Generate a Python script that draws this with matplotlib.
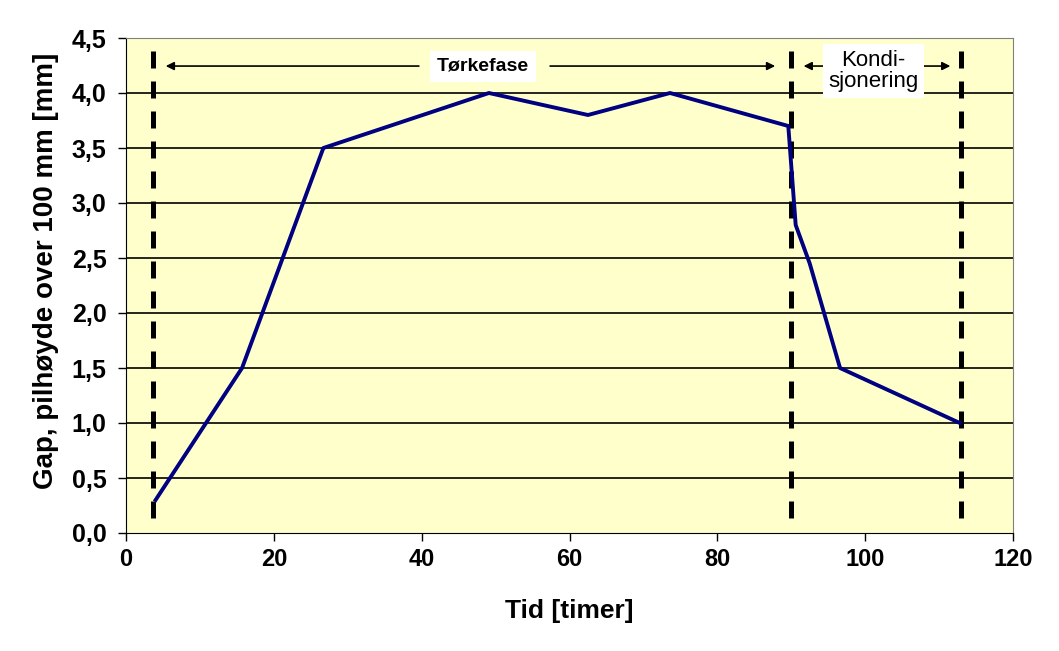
import matplotlib
matplotlib.use("Agg")
import matplotlib.pyplot as plt

plt.rcParams['font.family'] = ['Liberation Sans', 'DejaVu Sans']

# data
tid = [4.0, 15.7, 26.7, 49.1, 62.5, 73.6, 89.6, 90.6, 92.5, 96.6, 112.8]
gap = [0.30, 1.50, 3.50, 4.00, 3.80, 4.00, 3.70, 2.80, 2.45, 1.50, 1.00]
fase_grenser = [3.6, 90.0, 112.9]
x_ticks = [0, 20, 40, 60, 80, 100, 120]
y_ticks = [0.0, 0.5, 1.0, 1.5, 2.0, 2.5, 3.0, 3.5, 4.0, 4.5]

fig = plt.figure(figsize=(10.59, 6.51), dpi=100)
ax = fig.add_axes([126 / 1059, 1 - 533 / 651, 887 / 1059, 495 / 651])
ax.set_facecolor('#ffffcc')

ax.set_xlim(0, 120)
ax.set_ylim(0, 4.5)
ax.set_yticks(y_ticks)
ax.set_xticks(x_ticks)
ax.set_yticklabels([f"{v:.1f}".replace('.', ',') for v in y_ticks])
ax.set_xticklabels([str(v) for v in x_ticks])
for yv in y_ticks[1:-1]:
    ax.axhline(yv, color='black', lw=1.2, zorder=1)

ax.tick_params(axis='y', direction='out', length=6, width=1, labelsize=18, pad=8)
ax.tick_params(axis='x', direction='out', length=6, width=1, labelsize=17, pad=5)
for lbl in ax.get_xticklabels() + ax.get_yticklabels():
    lbl.set_fontweight('bold')
ax.spines['left'].set_color('black')
ax.spines['bottom'].set_color('black')
ax.spines['top'].set_color('#808080')
ax.spines['right'].set_color('#808080')

# phase borders
for xv in fase_grenser:
    ax.plot([xv, xv], [0.14, 4.46], color='black', lw=3.6,
            dashes=(3.4, 2.6), zorder=3)

ax.plot(tid, gap, color='#000080', lw=2.8, zorder=4)

# arrows
arr_y = 4.245
kw = dict(arrowstyle='-|>', color='black', lw=1.2, mutation_scale=12)
ax.annotate('', xy=(5.0, arr_y), xytext=(40, arr_y), arrowprops=kw, zorder=5)
ax.annotate('', xy=(88.2, arr_y), xytext=(57, arr_y), arrowprops=kw, zorder=5)
ax.annotate('', xy=(91.3, arr_y), xytext=(96, arr_y), arrowprops=kw, zorder=5)
ax.annotate('', xy=(111.9, arr_y), xytext=(106, arr_y), arrowprops=kw, zorder=5)

ax.text(48.3, arr_y, 'Tørkefase', ha='center', va='center', fontsize=14,
        fontweight='bold', zorder=6,
        bbox=dict(facecolor='white', edgecolor='none', pad=5))
ax.text(101.1, 4.20, 'Kondi-\nsjonering', ha='center', va='center',
        fontsize=16, linespacing=1.0, zorder=6,
        bbox=dict(facecolor='white', edgecolor='none', pad=4))

ax.set_xlabel('Tid [timer]', fontsize=19, fontweight='bold', labelpad=20)
ax.set_ylabel('Gap, pilhøyde over 100 mm [mm]', fontsize=20,
              fontweight='bold')
ax.yaxis.set_label_coords(-0.075, 0.53)

fig.savefig('out.png', dpi=100)
